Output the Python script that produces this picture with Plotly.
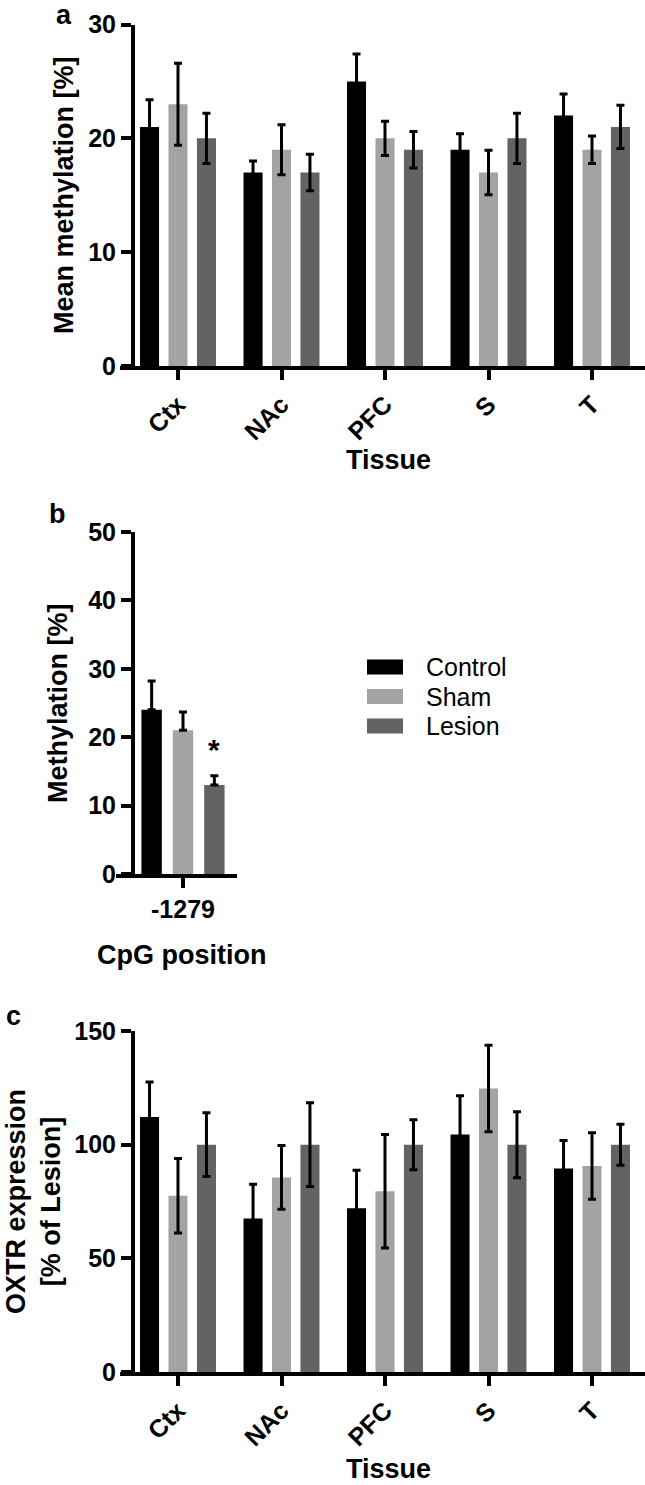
import plotly.graph_objects as go

W, H = 645, 1485

tissues = ["Ctx", "NAc", "PFC", "S", "T"]
groups = ["Control", "Sham", "Lesion"]
colors = ["#000000", "#a3a3a6", "#636363"]

# a: mean methylation [%] per tissue
meth_control = [21, 17, 25, 19, 22]
meth_control_err = [2.4, 1.0, 2.4, 1.4, 1.9]
meth_sham = [23, 19, 20, 17, 19]
meth_sham_err = [3.6, 2.2, 1.5, 1.95, 1.2]
meth_lesion = [20, 17, 19, 20, 21]
meth_lesion_err = [2.2, 1.6, 1.6, 2.2, 1.9]

# b: methylation at one CpG
cpg = ["-1279"]
cpg_control = [24]
cpg_control_err = [4.2]
cpg_sham = [21]
cpg_sham_err = [2.7]
cpg_lesion = [13]
cpg_lesion_err = [1.35]

# c: OXTR expression [% of Lesion]
oxtr_control = [112.2, 67.5, 72, 104.5, 89.5]
oxtr_control_err = [15.4, 15.1, 16.8, 17, 12.3]
oxtr_sham = [77.5, 85.6, 79.5, 124.7, 90.6]
oxtr_sham_err = [16.4, 14, 25, 19, 14.6]
oxtr_lesion = [100, 100, 100, 100, 100]
oxtr_lesion_err = [14, 18.4, 11, 14.5, 9]

FONT = "Liberation Sans, Arial, sans-serif"
CAT = 103.5  # px per category


def px_x(x):
    return x / W


def px_y(y):
    return 1 - y / H


fig = go.Figure()


def add_bars(x, series, errs, xa, ya, centers, width, one_sided=False):
    for name, color, vals, err, c in zip(groups, colors, series, errs, centers):
        ey = dict(type="data", array=err, color="black", thickness=3, width=4)
        if one_sided:
            ey.update(symmetric=False, arrayminus=[0] * len(err))
        fig.add_trace(go.Bar(
            x=x, y=vals, name=name,
            marker=dict(color=color, line=dict(width=0)),
            width=width, offset=c - width / 2,
            error_y=ey,
            xaxis=xa, yaxis=ya,
            showlegend=False,
        ))


add_bars(tissues, [meth_control, meth_sham, meth_lesion],
         [meth_control_err, meth_sham_err, meth_lesion_err],
         "x", "y", [-0.275, 0, 0.275], 0.184)
add_bars(cpg, [cpg_control, cpg_sham, cpg_lesion],
         [cpg_control_err, cpg_sham_err, cpg_lesion_err],
         "x2", "y2", [-0.303, 0, 0.303], 0.197, one_sided=True)
add_bars(tissues, [oxtr_control, oxtr_sham, oxtr_lesion],
         [oxtr_control_err, oxtr_sham_err, oxtr_lesion_err],
         "x3", "y3", [-0.275, 0, 0.275], 0.184)

tickfont = dict(family=FONT, size=25, color="black", weight="bold")


def xax(left, right, cat0, anchor, angle):
    return dict(
        domain=[px_x(left), px_x(right)],
        range=[(left - cat0) / CAT, (right - cat0) / CAT],
        type="category", anchor=anchor, automargin=False,
        showline=True, linewidth=4, linecolor="black",
        ticks="outside", ticklen=10, tickwidth=4, tickcolor="black",
        tickangle=angle, tickfont=tickfont,
        showgrid=False, zeroline=False, fixedrange=True,
    )


def yax(bottom, top, ymax, dtick, pos):
    return dict(
        domain=[px_y(bottom), px_y(top)],
        range=[0, ymax], dtick=dtick,
        anchor="free", position=px_x(pos), automargin=False,
        showline=True, linewidth=4, linecolor="black",
        ticks="outside", ticklen=10, tickwidth=4, tickcolor="black",
        tickfont=tickfont,
        showgrid=False, zeroline=False, fixedrange=True,
    )


fig.update_layout(
    width=W, height=H,
    margin=dict(l=0, r=0, t=0, b=0, autoexpand=False),
    paper_bgcolor="white", plot_bgcolor="white",
    barmode="overlay",
    showlegend=False,
    xaxis=xax(120, 645, 178, "y", -45),
    yaxis=yax(366, 24.5, 30, 10, 133),
    xaxis2=xax(116, 237, 183, "y2", 0),
    yaxis2=yax(874, 532, 50, 10, 133),
    xaxis3=xax(120, 645, 178, "y3", -45),
    yaxis3=yax(1372, 1031, 150, 50, 133),
)

title_font = dict(family=FONT, size=27, color="black", weight="bold")
texts = [
    ("a", 64, 15),
    ("b", 57, 514),
    ("c", 13, 1016),
    ("Mean methylation [%]", 64, 195, -90),
    ("Methylation [%]", 58, 703, -90),
    ("OXTR expression<br>[% of Lesion]", 33, 1202, -90),
    ("Tissue", 388, 460),
    ("CpG position", 181, 955),
    ("Tissue", 388, 1469),
]
for item in texts:
    t, x, y = item[:3]
    ang = item[3] if len(item) > 3 else 0
    fig.add_annotation(
        text=t, x=px_x(x), y=px_y(y), xref="paper", yref="paper",
        xanchor="center", yanchor="middle", textangle=ang,
        showarrow=False, font=title_font,
    )

# significance mark above the lesion bar in b
fig.add_annotation(
    text="*", x=0.303, y=cpg_lesion[0] + cpg_lesion_err[0],
    xref="x2", yref="y2", yanchor="bottom", yshift=8,
    showarrow=False, font=dict(family=FONT, size=30, color="black", weight="bold"),
)

# legend for b
for i, (name, color) in enumerate(zip(groups, colors)):
    yc = 667 + i * 29.5
    fig.add_shape(
        type="rect", xref="paper", yref="paper",
        x0=px_x(367), x1=px_x(403), y0=px_y(yc + 7.5), y1=px_y(yc - 7.5),
        fillcolor=color, line=dict(width=0),
    )
    fig.add_annotation(
        text=name, x=px_x(424), y=px_y(yc), xref="paper", yref="paper",
        xanchor="left", yanchor="middle", showarrow=False,
        font=dict(family=FONT, size=25, color="black"),
    )

fig.write_html(
    "out.html",
    config={"displayModeBar": False},
    post_script="document.body.style.margin='0';",
)
